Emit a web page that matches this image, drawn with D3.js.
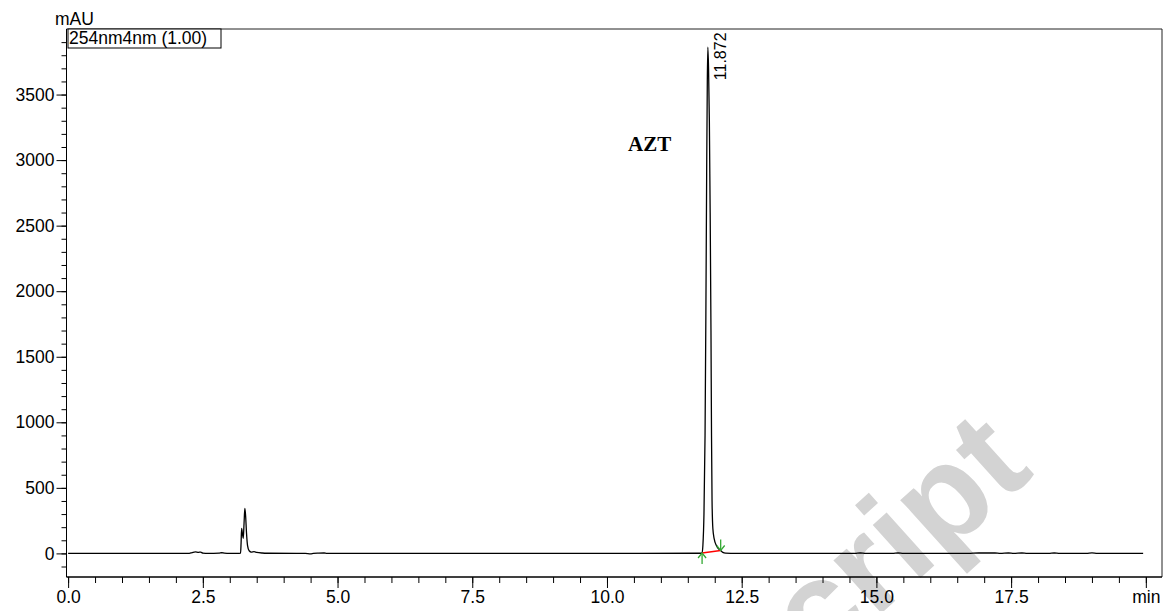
<!DOCTYPE html>
<html>
<head>
<meta charset="utf-8">
<script src="https://cdn.jsdelivr.net/npm/d3@7"></script>
<style>
  body { margin: 0; background: #fff; }
  svg text { font-family: "Liberation Sans", Arial, sans-serif; }
</style>
</head>
<body>
<div id="chart"></div>
<script>
// chromatogram, 254nm, values (min, mAU)
const earlyNoise = [
    [0.0, 0], [1.9, 0], [2.25, 0], [2.3, 6], [2.36, 12], [2.42, 8], [2.46, 10], [2.5, 2],
    [2.6, 0], [2.8, 2], [2.85, 5], [2.9, 2], [3.0, 0], [3.15, 0]
];
const impurityPeak = [
    [3.2, 2], [3.21, 80], [3.22, 190], [3.235, 150], [3.25, 115], [3.265, 230], [3.28, 344],
    [3.295, 280], [3.31, 160], [3.33, 60], [3.36, 20], [3.4, 10], [3.45, 13], [3.5, 8],
    [3.6, 3], [3.7, 1]
];
const midNoise = [
    [4.4, 0], [4.5, -3], [4.55, 0], [4.65, 2], [4.75, 3], [4.8, 0], [5.0, 0], [10.6, 0], [11.7, 1]
];
const aztPeak = [
    [11.765, 3], [11.78, 60], [11.8, 300], [11.82, 900], [11.835, 1800], [11.85, 2900],
    [11.862, 3600], [11.872, 3861], [11.885, 3700], [11.9, 3300], [11.915, 2600], [11.93, 1700],
    [11.94, 900], [11.95, 400], [11.965, 190], [11.99, 110], [12.03, 60], [12.07, 35],
    [12.11, 22], [12.15, 8], [12.2, 2]
];
const lateNoise = [
    [12.4, 0], [14.6, 0], [14.7, 3], [14.8, 0], [15.3, 0], [15.4, 3], [15.5, 0], [16.7, 0],
    [16.9, 3], [17.2, 3], [17.3, 0], [17.45, 3], [17.55, 0], [17.7, 3], [17.8, 0], [18.2, 0],
    [18.3, 3], [18.4, 0], [18.9, 0], [19.0, 4], [19.1, 0], [19.95, 0]
];

const peakLabels = [{ t: 11.872, v: 3861, text: "11.872" }];
const peakStart = [11.765, 3];
const peakEnd = [12.11, 22];

const xMajor = [0, 2.5, 5, 7.5, 10, 12.5, 15, 17.5, 20];
const xLabels = ["0.0", "2.5", "5.0", "7.5", "10.0", "12.5", "15.0", "17.5", "min"];
const yMajor = [0, 500, 1000, 1500, 2000, 2500, 3000, 3500];

const trace = earlyNoise.concat(impurityPeak, midNoise, aztPeak, lateNoise);

const w = 1164;
const h = 611;
const mLeft = 66.5, mRight = 1162, mTop = 29, mBottom = 577;
const fs = 17.5;

const svg = d3.select("#chart")
    .append("svg")
    .attr("width", w)
    .attr("height", h);

const x = d3.scaleLinear().domain([-0.03, 20.3]).range([mLeft, mRight]);
const y = d3.scaleLinear().domain([-180, 4000]).range([mBottom, mTop]);

// watermark behind everything
svg.append("text")
    .attr("transform", "translate(1036,474) rotate(-42)")
    .attr("text-anchor", "end")
    .attr("font-size", 135)
    .attr("font-weight", "bold")
    .attr("fill", "#d3d3d3")
    .text("Manuscript");

// frame
svg.append("path")
    .attr("d", `M${mLeft},${mTop}H${mRight}V${mBottom}`)
    .attr("fill", "none")
    .attr("stroke", "#222")
    .attr("stroke-width", 1);

// y axis
const yAxis = svg.append("g").attr("transform", `translate(${mLeft},0)`);
yAxis.call(d3.axisLeft(y).tickValues(d3.range(-100, 4000, 100)).tickSize(5).tickFormat(""));
yAxis.append("g").call(d3.axisLeft(y).tickValues(yMajor).tickSize(10).tickPadding(2).tickFormat(d3.format("d")));
yAxis.selectAll(".domain").attr("stroke", "#000").attr("d", `M0,${mBottom}V${mTop}`);
yAxis.selectAll("text").attr("font-size", fs).attr("fill", "#000")
    .attr("font-family", "Liberation Sans, Arial, sans-serif");

// x axis
const xAxis = svg.append("g").attr("transform", `translate(0,${mBottom})`);
xAxis.call(d3.axisBottom(x).tickValues(d3.range(0, 20.01, 0.5)).tickSize(6).tickFormat(""));
xAxis.append("g").call(d3.axisBottom(x).tickValues(xMajor).tickSize(11).tickPadding(3)
    .tickFormat((d, i) => xLabels[i]));
xAxis.selectAll(".domain").attr("stroke", "#000").attr("d", `M${mLeft},0H${mRight}`);
xAxis.selectAll("text").attr("font-size", fs).attr("fill", "#000")
    .attr("font-family", "Liberation Sans, Arial, sans-serif");

// trace
const line = d3.line()
    .x(d => x(d[0]))
    .y(d => y(d[1]))
    .curve(d3.curveMonotoneX);

svg.append("path")
    .datum(trace)
    .attr("d", line)
    .attr("fill", "none")
    .attr("stroke", "#000")
    .attr("stroke-width", 1.3);

// integration baseline and markers
svg.append("line")
    .attr("x1", x(peakStart[0])).attr("y1", y(peakStart[1]))
    .attr("x2", x(peakEnd[0])).attr("y2", y(peakEnd[1]))
    .attr("stroke", "red")
    .attr("stroke-width", 1.3);

function arrow(px, py, dir) {
    // dir = 1 points up (drawn below), dir = -1 points down (drawn above)
    const g = svg.append("g").attr("stroke", "#33a833").attr("stroke-width", 1.3).attr("fill", "none");
    g.append("line").attr("x1", px).attr("y1", py).attr("x2", px).attr("y2", py + dir * 11);
    g.append("path").attr("d", `M${px - 4},${py + dir * 5}L${px},${py}L${px + 4},${py + dir * 5}`);
}
arrow(x(peakStart[0]), y(peakStart[1]), 1);
arrow(x(peakEnd[0]), y(peakEnd[1]), -1);

// peak label
svg.selectAll(".plabel")
    .data(peakLabels)
    .enter().append("text")
    .attr("class", "plabel")
    .attr("transform", d => `translate(${x(d.t) + 18},${y(d.v) + 33}) rotate(-90)`)
    .attr("font-size", 16)
    .text(d => d.text);

svg.append("text")
    .attr("x", 628)
    .attr("y", 151)
    .attr("font-weight", "bold")
    .attr("font-size", 21)
    .style("font-family", "Liberation Serif, serif")
    .text("AZT");

// unit and detector box
svg.append("text")
    .attr("x", 55)
    .attr("y", 25)
    .attr("font-size", fs)
    .text("mAU");

svg.append("rect")
    .attr("x", 68).attr("y", 29)
    .attr("width", 153).attr("height", 19)
    .attr("fill", "#fff")
    .attr("stroke", "#000")
    .attr("stroke-width", 1);

svg.append("text")
    .attr("x", 69)
    .attr("y", 44)
    .attr("font-size", fs)
    .text("254nm4nm (1.00)");
</script>
</body>
</html>
